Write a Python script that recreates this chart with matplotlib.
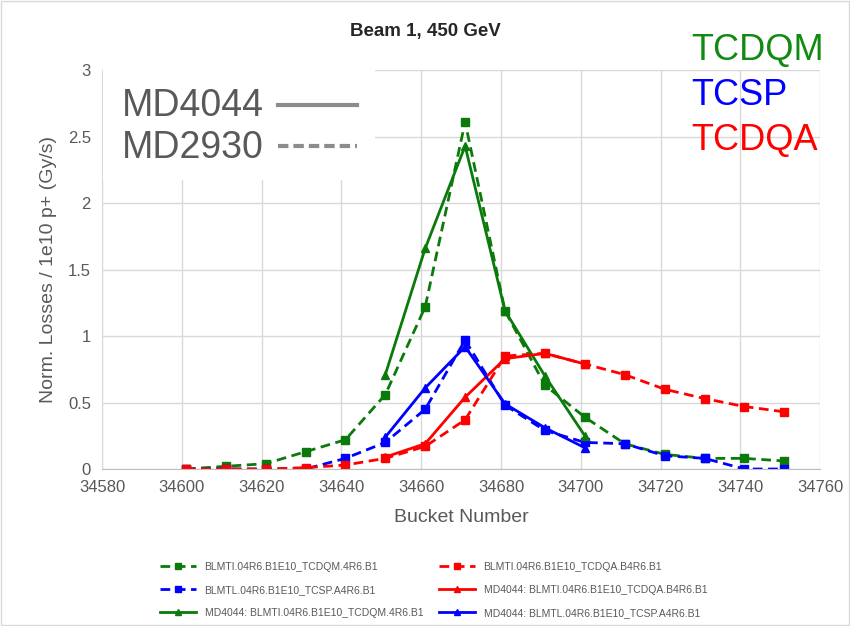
import matplotlib.pyplot as plt
from matplotlib.lines import Line2D
from matplotlib.patches import Rectangle

plt.rcParams['font.family'] = ['Liberation Sans', 'DejaVu Sans']

# bucket numbers
buckets = [34601, 34611, 34621, 34631, 34641, 34651, 34661, 34671,
           34681, 34691, 34701, 34711, 34721, 34731, 34741, 34751]
buckets_md4044 = [34651, 34661, 34671, 34681, 34691, 34701]

# MD2930 (dashed)
tcdqm_2930 = [0.0, 0.02, 0.04, 0.13, 0.22, 0.56, 1.22, 2.61,
              1.19, 0.63, 0.39, 0.19, 0.11, 0.08, 0.08, 0.06]
tcdqa_2930 = [0.0, 0.0, 0.0, 0.01, 0.03, 0.08, 0.17, 0.37,
              0.85, 0.87, 0.79, 0.71, 0.60, 0.53, 0.47, 0.43]
tcsp_2930 = [0.0, 0.0, 0.0, 0.0, 0.08, 0.20, 0.45, 0.97,
             0.48, 0.29, 0.20, 0.19, 0.10, 0.08, 0.0, 0.0]

# MD4044 (solid)
tcdqm_4044 = [0.71, 1.66, 2.43, 1.19, 0.70, 0.25]
tcdqa_4044 = [0.09, 0.19, 0.54, 0.83, 0.87, 0.79]
tcsp_4044 = [0.24, 0.61, 0.92, 0.49, 0.31, 0.16]

green = '#0a7a0a'
blue = '#0000ff'
red = '#ff0000'
gray = '#595959'

fig = plt.figure(figsize=(8.5, 6.26), dpi=100)
ax = fig.add_axes([0.12, 0.2508, 0.845, 0.637])

dash = (0, (3.5, 2))
l1, = ax.plot(buckets, tcdqm_2930, color=green, ls=dash, lw=2, marker='s', ms=6,
              label='BLMTI.04R6.B1E10_TCDQM.4R6.B1')
l2, = ax.plot(buckets, tcsp_2930, color=blue, ls=dash, lw=2, marker='s', ms=6,
              label='BLMTL.04R6.B1E10_TCSP.A4R6.B1')
l4, = ax.plot(buckets, tcdqa_2930, color=red, ls=dash, lw=2, marker='s', ms=6,
              label='BLMTI.04R6.B1E10_TCDQA.B4R6.B1')
l3, = ax.plot(buckets_md4044, tcdqm_4044, color=green, lw=2, marker='^', ms=6,
              label='MD4044: BLMTI.04R6.B1E10_TCDQM.4R6.B1')
l5, = ax.plot(buckets_md4044, tcdqa_4044, color=red, lw=2, marker='^', ms=6,
              label='MD4044: BLMTI.04R6.B1E10_TCDQA.B4R6.B1')
l6, = ax.plot(buckets_md4044, tcsp_4044, color=blue, lw=2, marker='^', ms=6,
              label='MD4044: BLMTL.04R6.B1E10_TCSP.A4R6.B1')

ax.set_xlim(34580, 34760)
ax.set_ylim(0, 3)
ax.set_xticks(range(34580, 34761, 20))
ax.set_yticks([0, 0.5, 1, 1.5, 2, 2.5, 3])
ax.set_yticklabels(['0', '0.5', '1', '1.5', '2', '2.5', '3'])
ax.grid(True, color='#d9d9d9', lw=1)
ax.set_axisbelow(True)
for s in ['top', 'right']:
    ax.spines[s].set_visible(False)
ax.spines['left'].set_color('#d9d9d9')
ax.spines['bottom'].set_color('#bfbfbf')
ax.tick_params(length=0, labelsize=12, colors=gray, pad=8)

ax.set_xlabel('Bucket Number', fontsize=14, color=gray, labelpad=10)
ax.set_ylabel('Norm. Losses / 1e10 p+ (Gy/s)', fontsize=14, color=gray, labelpad=8)
fig.text(0.5, 0.942, 'Beam 1, 450 GeV', ha='center', fontsize=13.5, weight='bold', color='#262626')

# white box with MD labels
fig.patches.append(Rectangle((0.121, 0.713), 0.32, 0.175, transform=fig.transFigure,
                             facecolor='white', edgecolor='none', zorder=5))
fig.text(0.143, 0.831, 'MD4044', fontsize=27, color=gray, va='center', zorder=6)
fig.text(0.143, 0.763, 'MD2930', fontsize=27, color=gray, va='center', zorder=6)
fig.add_artist(Line2D([0.327, 0.42], [0.832, 0.832], transform=fig.transFigure,
                      color='#8c8c8c', lw=3, zorder=6))
fig.add_artist(Line2D([0.327, 0.42], [0.766, 0.766], transform=fig.transFigure,
                      color='#8c8c8c', lw=3, ls=(0, (2.5, 1.2)), zorder=6))

# collimator names
fig.text(0.813, 0.92, 'TCDQM', fontsize=26, color='#118a11', ha='left', va='center')
fig.text(0.813, 0.848, 'TCSP', fontsize=26, color=blue, ha='left', va='center')
fig.text(0.813, 0.775, 'TCDQA', fontsize=26, color=red, ha='left', va='center')

handles = [l1, l2, l3, l4, l5, l6]
fig.legend(handles, [h.get_label() for h in handles], ncol=2, loc='center',
           bbox_to_anchor=(0.51, 0.0575), frameon=False, fontsize=7.5,
           labelcolor=gray, handlelength=3.5, columnspacing=1.5, markerscale=0.8,
           labelspacing=1.25)

fig.patches.append(Rectangle((0.001, 0.001), 0.998, 0.998, transform=fig.transFigure,
                             facecolor='none', edgecolor='#d9d9d9', lw=1))

fig.savefig('out.png', dpi=100)
